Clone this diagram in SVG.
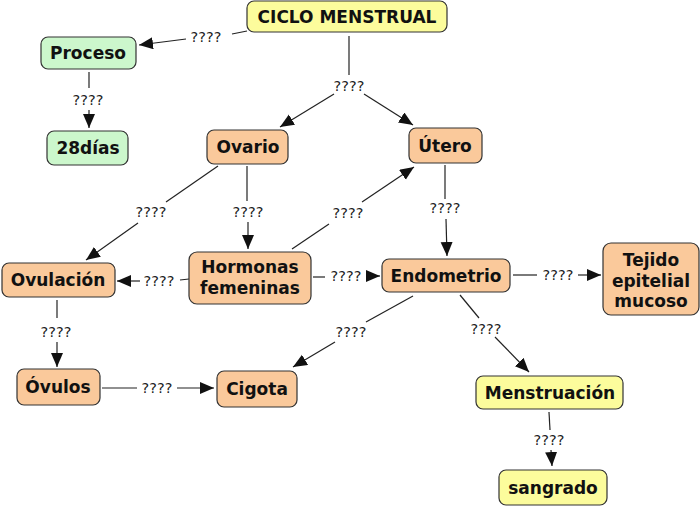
<svg xmlns="http://www.w3.org/2000/svg" width="700" height="508" viewBox="0 0 700 508">
<style>
.n rect{stroke:#333;stroke-width:1.2}
.y rect{fill:#fcfc9c}
.g rect{fill:#ccf7cc}
.o rect{fill:#fac99b}
.n text{font-family:"DejaVu Sans",Verdana,sans-serif;font-weight:bold;font-size:17px;fill:#111;text-anchor:middle}
.c line{stroke:#222;stroke-width:1.2;fill:none}
.c line.a{marker-end:url(#ah)}
.c text{font-family:"DejaVu Sans",Verdana,sans-serif;font-size:14.5px;fill:#222;text-anchor:middle}
</style>
<defs>
<marker id="ah" markerUnits="userSpaceOnUse" markerWidth="16" markerHeight="14" refX="14" refY="6" orient="auto"><path d="M0,0 L14,6 L0,12 z" fill="#111"/></marker>
</defs>
<rect width="700" height="508" fill="#fff"/>
<g id="connectors" class="c">
<line x1="247" y1="31" x2="232" y2="34"/><text x="206" y="42">????</text><line class="a" x1="186" y1="39" x2="139" y2="45"/>
<line x1="349" y1="36" x2="349" y2="75"/><text x="349" y="91">????</text><line class="a" x1="334" y1="94" x2="280" y2="127"/><line class="a" x1="364" y1="94" x2="413" y2="125"/>
<line x1="89" y1="72" x2="89" y2="88"/><text x="88" y="105">????</text><line class="a" x1="89" y1="110" x2="89" y2="128"/>
<line x1="218" y1="166" x2="166" y2="202"/><text x="151" y="217">????</text><line class="a" x1="138" y1="223" x2="86" y2="260"/>
<line x1="247" y1="166" x2="247" y2="201"/><text x="248" y="217">????</text><line class="a" x1="248" y1="222" x2="248" y2="249"/>
<line x1="292" y1="249" x2="329" y2="224"/><text x="348" y="218">????</text><line class="a" x1="362" y1="202" x2="414" y2="167"/>
<line x1="189" y1="279" x2="180" y2="280"/><text x="159" y="286">????</text><line class="a" x1="140" y1="281" x2="117" y2="281"/>
<line x1="313" y1="277" x2="325" y2="277"/><text x="346" y="281">????</text><line class="a" x1="366" y1="276" x2="380" y2="276"/>
<line x1="445" y1="165" x2="445" y2="199"/><text x="445" y="213">????</text><line class="a" x1="446" y1="219" x2="447" y2="256"/>
<line x1="513" y1="275" x2="537" y2="275"/><text x="558" y="280">????</text><line class="a" x1="578" y1="275" x2="601" y2="275"/>
<line x1="413" y1="296" x2="366" y2="322"/><text x="351" y="337">????</text><line class="a" x1="335" y1="342" x2="293" y2="367"/>
<line x1="460" y1="295" x2="479" y2="318"/><text x="486" y="334">????</text><line class="a" x1="495" y1="337" x2="529" y2="372"/>
<line x1="549" y1="412" x2="550" y2="430"/><text x="549" y="445">????</text><line class="a" x1="551" y1="450" x2="552" y2="466"/>
<line x1="57" y1="300" x2="57" y2="318"/><text x="56" y="337">????</text><line class="a" x1="57" y1="342" x2="57" y2="367"/>
<line x1="102" y1="388" x2="137" y2="388"/><text x="157" y="393">????</text><line class="a" x1="177" y1="388" x2="214" y2="388"/>
</g>
<g id="ciclo" class="n y"><rect x="247" y="1" width="200" height="31" rx="7"/><text x="347" y="23">CICLO MENSTRUAL</text></g>
<g id="proceso" class="n g"><rect x="41" y="37" width="95" height="32" rx="7"/><text x="88" y="59">Proceso</text></g>
<g id="dias" class="n g"><rect x="47" y="131" width="81" height="34" rx="7"/><text x="88" y="154">28días</text></g>
<g id="ovario" class="n o"><rect x="207" y="130" width="81" height="34" rx="7"/><text x="248" y="153">Ovario</text></g>
<g id="utero" class="n o"><rect x="409" y="128" width="73" height="35" rx="7"/><text x="445" y="152">Útero</text></g>
<g id="ovulacion" class="n o"><rect x="2" y="263" width="113" height="34" rx="7"/><text x="58" y="286">Ovulación</text></g>
<g id="hormonas" class="n o"><rect x="189" y="252" width="122" height="52" rx="8"/><text x="250" y="273">Hormonas</text><text x="250" y="294">femeninas</text></g>
<g id="endometrio" class="n o"><rect x="382" y="259" width="128" height="33" rx="7"/><text x="446" y="282">Endometrio</text></g>
<g id="tejido" class="n o"><rect x="603" y="243" width="96" height="72" rx="8"/><text x="651" y="266">Tejido</text><text x="651" y="287">epitelial</text><text x="651" y="307">mucoso</text></g>
<g id="ovulos" class="n o"><rect x="17" y="369" width="83" height="36" rx="7"/><text x="58" y="393">Óvulos</text></g>
<g id="cigota" class="n o"><rect x="217" y="371" width="80" height="36" rx="7"/><text x="257" y="395">Cigota</text></g>
<g id="menstruacion" class="n y"><rect x="476" y="376" width="147" height="33" rx="7"/><text x="550" y="399">Menstruación</text></g>
<g id="sangrado" class="n y"><rect x="499" y="470" width="108" height="35" rx="7"/><text x="553" y="494">sangrado</text></g>
</svg>
